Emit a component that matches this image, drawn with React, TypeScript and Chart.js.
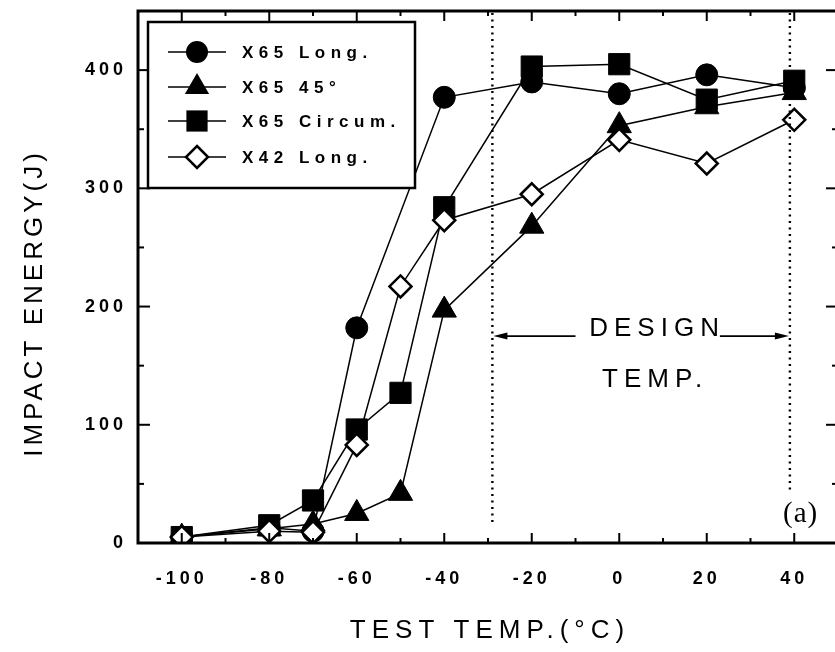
import React, { useEffect, useRef } from "react";
import { Chart, registerables } from "chart.js";

Chart.register(...registerables);

// ---- data ----
const seriesNames = ["X65 Long.", "X65 45°", "X65 Circum.", "X42 Long."];

const x65LongTemp = [-100, -80, -70, -60, -40, -20, 0, 20, 40];
const x65LongEnergy = [5, 13, 10, 182, 377, 390, 380, 396, 385];

const x65DiagTemp = [-100, -80, -70, -60, -50, -40, -20, 0, 20, 40];
const x65DiagEnergy = [5, 12, 16, 25, 42, 197, 268, 353, 369, 381];

const x65CircTemp = [-100, -80, -70, -60, -50, -40, -20, 0, 20, 40];
const x65CircEnergy = [5, 15, 36, 96, 127, 284, 403, 405, 375, 391];

const x42LongTemp = [-100, -80, -70, -60, -50, -40, -20, 0, 20, 40];
const x42LongEnergy = [5, 10, 9, 83, 217, 273, 295, 341, 321, 358];

const xTickLabels = [-100, -80, -60, -40, -20, 0, 20, 40];
const yTickLabels = [0, 100, 200, 300, 400];

const designRange = [-29, 39];
const designArrowEnergy = 175;
const designTextTemp = 7.5;
const designArrowGap = [-10, 23];
const tempTextEnergy = 132;
const dottedEnds = [17, 45];

const xTitle = "TEST TEMP.(°C)";
const yTitle = "IMPACT ENERGY(J)";
const panelLabel = "(a)";

const markerStyles = ["circle", "triangle", "rect", "rectRot"];
const markerRadius = [11, 14, 15, 11];

const SANS = "Arial, 'Liberation Sans', Helvetica, sans-serif";
const SERIF = "'Times New Roman', 'Liberation Serif', serif";

// canvas is shifted up by OY px so the plot frame can sit close to the top edge
const OY = 5;

function pts(xs: number[], ys: number[]) {
  return xs.map((x, i) => ({ x, y: ys[i] }));
}

function drawMarker(ctx: CanvasRenderingContext2D, style: string, x: number, y: number) {
  ctx.save();
  ctx.fillStyle = "#000";
  ctx.strokeStyle = "#000";
  ctx.beginPath();
  if (style === "circle") {
    ctx.arc(x, y, 11, 0, Math.PI * 2);
    ctx.fill();
  } else if (style === "triangle") {
    const r = 14;
    ctx.moveTo(x, y - r);
    ctx.lineTo(x + r * Math.cos(Math.PI / 6), y + r / 2);
    ctx.lineTo(x - r * Math.cos(Math.PI / 6), y + r / 2);
    ctx.closePath();
    ctx.fill();
  } else if (style === "rect") {
    const s = 15 * Math.SQRT1_2;
    ctx.rect(x - s, y - s, 2 * s, 2 * s);
    ctx.fill();
  } else {
    const r = 11;
    ctx.moveTo(x, y - r);
    ctx.lineTo(x + r, y);
    ctx.lineTo(x, y + r);
    ctx.lineTo(x - r, y);
    ctx.closePath();
    ctx.fillStyle = "#fff";
    ctx.fill();
    ctx.lineWidth = 2.5;
    ctx.stroke();
  }
  ctx.restore();
}

const decor = {
  id: "decor",
  beforeDraw(chart: any) {
    chart.ctx.letterSpacing = "4px";
  },
  beforeDatasetsDraw(chart: any) {
    chart.ctx.letterSpacing = "0px";
  },
  afterDraw(chart: any) {
    const ctx: CanvasRenderingContext2D = chart.ctx;
    const a = chart.chartArea;
    const xs = chart.scales.x;
    const ys = chart.scales.y;
    const line = (x1: number, y1: number, x2: number, y2: number) => {
      ctx.beginPath();
      ctx.moveTo(x1, y1);
      ctx.lineTo(x2, y2);
      ctx.stroke();
    };
    ctx.save();
    (ctx as any).letterSpacing = "0px";
    ctx.strokeStyle = "#000";
    ctx.fillStyle = "#000";

    // frame
    ctx.lineWidth = 3;
    ctx.strokeRect(a.left, a.top, a.right - a.left, a.bottom - a.top);

    // inward ticks
    ctx.lineWidth = 2;
    xs.ticks.forEach((t: any) => {
      if (t.value <= xs.min || t.value >= xs.max) return;
      const px = xs.getPixelForValue(t.value);
      const len = t.value % 20 === 0 ? 10 : 5;
      line(px, a.bottom, px, a.bottom - len);
      line(px, a.top, px, a.top + len);
    });
    ys.ticks.forEach((t: any) => {
      if (t.value <= ys.min || t.value >= ys.max) return;
      const py = ys.getPixelForValue(t.value);
      const len = t.value % 100 === 0 ? 12 : 6;
      line(a.left, py, a.left + len, py);
      line(a.right, py, a.right - len, py);
    });

    // dotted design-temperature lines
    ctx.save();
    ctx.lineWidth = 2.4;
    ctx.setLineDash([2, 4.5]);
    designRange.forEach((v, i) => {
      const px = xs.getPixelForValue(v);
      line(px, a.top + 2, px, ys.getPixelForValue(dottedEnds[i]));
    });
    ctx.restore();

    // arrows
    const ay = ys.getPixelForValue(designArrowEnergy);
    const xL = xs.getPixelForValue(designRange[0]);
    const xR = xs.getPixelForValue(designRange[1]);
    const g1 = xs.getPixelForValue(designArrowGap[0]);
    const g2 = xs.getPixelForValue(designArrowGap[1]);
    ctx.lineWidth = 1.6;
    line(xL + 10, ay, g1, ay);
    line(g2, ay, xR - 10, ay);
    ctx.beginPath();
    ctx.moveTo(xL + 1, ay);
    ctx.lineTo(xL + 15, ay - 3.5);
    ctx.lineTo(xL + 15, ay + 3.5);
    ctx.closePath();
    ctx.fill();
    ctx.beginPath();
    ctx.moveTo(xR - 1, ay);
    ctx.lineTo(xR - 15, ay - 3.5);
    ctx.lineTo(xR - 15, ay + 3.5);
    ctx.closePath();
    ctx.fill();

    // DESIGN / TEMP. text
    const tx = xs.getPixelForValue(designTextTemp);
    ctx.font = `26px ${SANS}`;
    (ctx as any).letterSpacing = "6px";
    ctx.textAlign = "center";
    ctx.textBaseline = "alphabetic";
    ctx.fillText("DESIGN", tx + 5, ay);
    ctx.fillText("TEMP.", tx + 3, ys.getPixelForValue(tempTextEnergy));

    // everything below is positioned in page coordinates
    ctx.translate(0, OY);

    // (a)
    (ctx as any).letterSpacing = "1px";
    ctx.font = `29px ${SERIF}`;
    ctx.textAlign = "left";
    ctx.fillText(panelLabel, 783, 522);

    // axis titles
    ctx.font = `26px ${SANS}`;
    (ctx as any).letterSpacing = "6px";
    ctx.textAlign = "center";
    ctx.textBaseline = "middle";
    ctx.fillText(xTitle, 490, 631);
    ctx.save();
    ctx.translate(35, 305);
    ctx.rotate(-Math.PI / 2);
    (ctx as any).letterSpacing = "4px";
    ctx.fillText(yTitle, 2, 0);
    ctx.restore();

    // legend box
    const lx = 148, ly = 22, lw = 267, lh = 166;
    ctx.fillStyle = "#fff";
    ctx.fillRect(lx, ly, lw, lh);
    ctx.lineWidth = 2.5;
    ctx.strokeRect(lx, ly, lw, lh);
    const rowsY = [52, 87, 121, 157];
    ctx.font = `bold 17px ${SANS}`;
    (ctx as any).letterSpacing = "5.5px";
    ctx.textAlign = "left";
    ctx.textBaseline = "middle";
    seriesNames.forEach((name, i) => {
      const y = rowsY[i];
      ctx.lineWidth = 1.6;
      line(168, y, 226, y);
      drawMarker(ctx, markerStyles[i], 197, y);
      ctx.fillStyle = "#000";
      ctx.fillText(name, 242, y + 1);
    });

    ctx.restore();
  },
};

const zeroPad = (s: any) => {
  s.paddingTop = 0;
  s.paddingBottom = 0;
  s.paddingLeft = 0;
  s.paddingRight = 0;
};

export default function App() {
  const ref = useRef<HTMLCanvasElement | null>(null);
  useEffect(() => {
    if (!ref.current) return;
    const series = [
      pts(x65LongTemp, x65LongEnergy),
      pts(x65DiagTemp, x65DiagEnergy),
      pts(x65CircTemp, x65CircEnergy),
      pts(x42LongTemp, x42LongEnergy),
    ];
    const orders = [3, 2, 1, 0];
    const chart = new Chart(ref.current, {
      type: "line",
      data: {
        datasets: series.map((d, i) => ({
          label: seriesNames[i],
          data: d,
          borderColor: "#000",
          borderWidth: 1.5,
          tension: 0,
          fill: false,
          order: orders[i],
          pointStyle: markerStyles[i] as any,
          pointRadius: markerRadius[i],
          pointBackgroundColor: i === 3 ? "#fff" : "#000",
          pointBorderColor: "#000",
          pointBorderWidth: i === 3 ? 2.5 : 1,
        })),
      },
      options: {
        responsive: false,
        animation: false,
        events: [],
        layout: { padding: { top: 11, right: 12, left: 0, bottom: 0 } },
        plugins: {
          legend: { display: false },
          tooltip: { enabled: false },
          title: { display: false },
        },
        scales: {
          x: {
            type: "linear",
            min: -110,
            max: 50,
            grid: { display: false },
            border: { display: false },
            ticks: {
              stepSize: 10,
              autoSkip: false,
              maxRotation: 0,
              padding: 17,
              color: "#000",
              font: { family: SANS, size: 18, weight: "bold" },
              callback: (v: any) => (xTickLabels.includes(Number(v)) ? String(v) : ""),
            },
            afterFit: (s: any) => {
              s.height = 109;
              zeroPad(s);
            },
          },
          y: {
            type: "linear",
            min: 0,
            max: 450,
            grid: { display: false },
            border: { display: false },
            ticks: {
              stepSize: 50,
              autoSkip: false,
              padding: 3,
              color: "#000",
              font: { family: SANS, size: 18, weight: "bold" },
              callback: (v: any) => (yTickLabels.includes(Number(v)) ? String(v) : ""),
            },
            afterFit: (s: any) => {
              s.width = 138;
              zeroPad(s);
            },
          },
        },
      },
      plugins: [decor],
    });
    return () => chart.destroy();
  }, []);

  return (
    <div
      style={{
        position: "fixed",
        left: 0,
        top: 0,
        width: 835,
        height: 652,
        overflow: "hidden",
        background: "#fff",
      }}
    >
      <canvas
        ref={ref}
        width={854}
        height={657}
        style={{ display: "block", position: "absolute", left: 0, top: -OY, width: 854, height: 657 }}
      />
    </div>
  );
}
